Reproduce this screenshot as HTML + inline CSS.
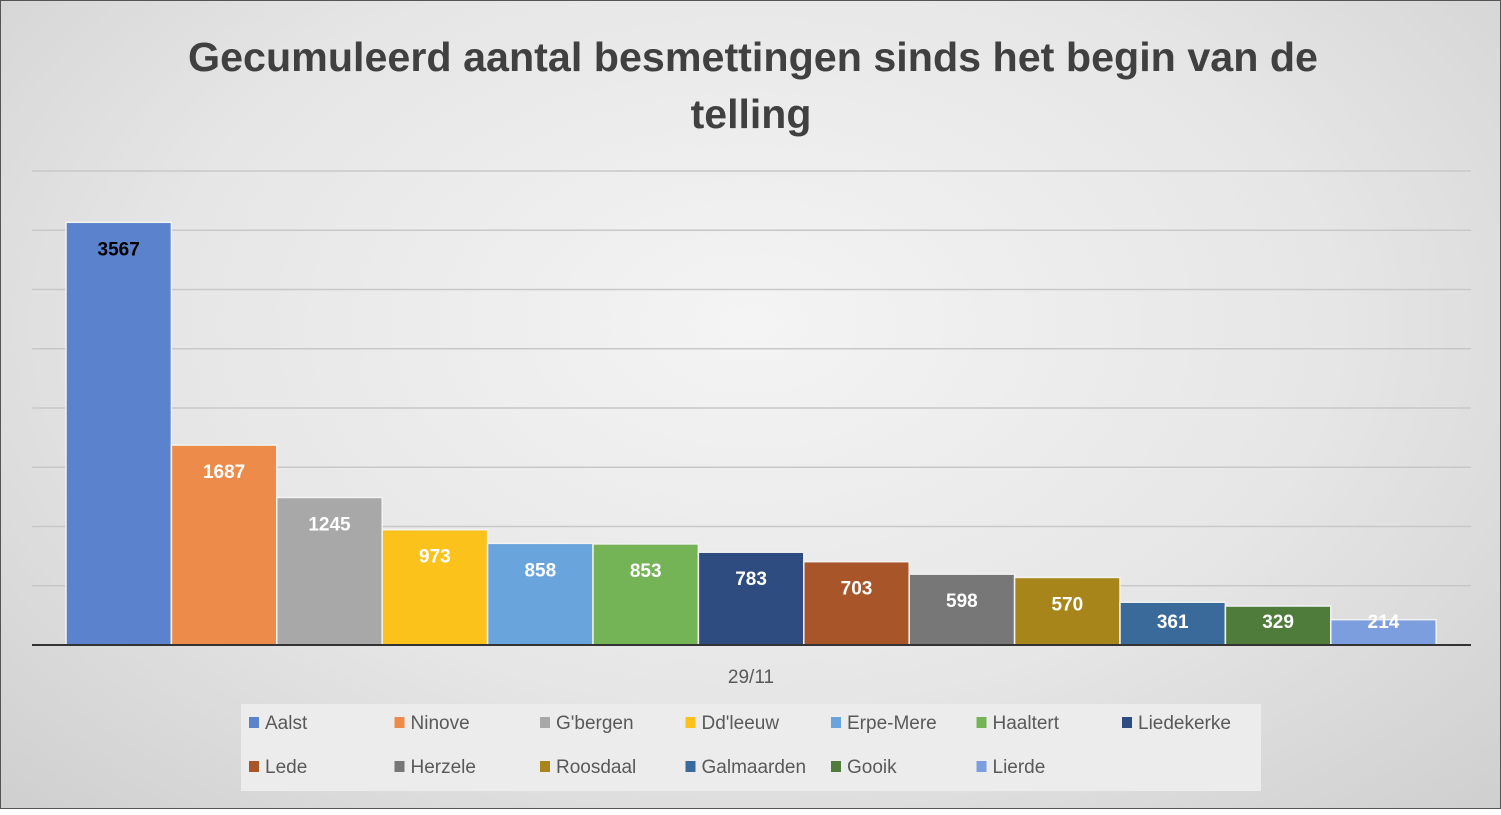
<!DOCTYPE html>
<html><head><meta charset="utf-8"><style>
body{margin:0;width:1501px;height:809px;overflow:hidden;font-family:"Liberation Sans",sans-serif}
#c{position:absolute;left:0;top:0;width:1499px;height:807px;border:1px solid #555;background:radial-gradient(ellipse at 50% 40%,#f4f4f4 0%,#e6e6e6 55%,#cfcfcf 100%)}
</style></head><body>
<div id="c">
<svg width="1501" height="809">
<text x="752" y="70" text-anchor="middle" font-size="41" font-weight="bold" fill="#404040" textLength="1130" lengthAdjust="spacingAndGlyphs">Gecumuleerd aantal besmettingen sinds het begin van de</text>
<text x="750" y="127" text-anchor="middle" font-size="41" font-weight="bold" fill="#404040">telling</text>
<g id="grid"></g><g id="bars"></g>
<line x1="31" x2="1470" y1="644" y2="644" stroke="#333" stroke-width="2"/>
<text x="750" y="682" text-anchor="middle" font-size="19" fill="#595959">29/11</text>
<rect x="240" y="703" width="1020" height="87" fill="#ececec"/>
<g id="legend"></g>
</svg></div>
<script>
const categories=["Aalst","Ninove","G'bergen","Dd'leeuw","Erpe-Mere","Haaltert","Liedekerke","Lede","Herzele","Roosdaal","Galmaarden","Gooik","Lierde"];
const values=[3567,1687,1245,973,858,853,783,703,598,570,361,329,214];
const colors=["#5b82cc","#ed8b4a","#a8a8a8","#fcc21c","#69a5dc","#75b357","#2f4c80","#a8552a","#777777","#a7851a","#3a6a9a","#4f7c3a","#7d9ede"];
const gridTicks=[0,500,1000,1500,2000,2500,3000,3500,4000];
const NS="http://www.w3.org/2000/svg";
const y=v=>644-v*(474/4000);
const x0=65,bw=105.4;
const g=document.getElementById('grid'),b=document.getElementById('bars'),l=document.getElementById('legend');
gridTicks.forEach(t=>{if(!t)return;const e=document.createElementNS(NS,'line');


e.setAttribute('x1',31);e.setAttribute('x2',1470);e.setAttribute('y1',y(t));e.setAttribute('y2',y(t));e.setAttribute('stroke','#c8c8c8');e.setAttribute('stroke-width',1.5);g.appendChild(e);});
values.forEach((v,i)=>{const r=document.createElementNS(NS,'rect');


r.setAttribute('x',x0+i*bw);r.setAttribute('y',y(v));r.setAttribute('width',bw);r.setAttribute('height',644-y(v));r.setAttribute('fill',colors[i]);r.setAttribute('stroke','#f2f2f2');r.setAttribute('stroke-width',1.5);b.appendChild(r);
const t=document.createElementNS(NS,'text');


t.setAttribute('x',x0+i*bw+bw/2);t.setAttribute('y',Math.min(y(v)+33,627));t.setAttribute('text-anchor','middle');t.setAttribute('font-size',19);t.setAttribute('font-weight','bold');t.setAttribute('fill',i==0?'#000':'#fff');t.textContent=v;b.appendChild(t);
const row=i<7?0:1,col=i<7?i:i-7;const lx=248+col*145.5,ly=row?772:728;
const m=document.createElementNS(NS,'rect');


m.setAttribute('x',lx);m.setAttribute('y',ly-12);m.setAttribute('width',10);m.setAttribute('height',11);m.setAttribute('fill',colors[i]);l.appendChild(m);
const lt=document.createElementNS(NS,'text');


lt.setAttribute('x',lx+16);lt.setAttribute('y',ly);lt.setAttribute('font-size',19);lt.setAttribute('fill','#595959');lt.textContent=categories[i];l.appendChild(lt);});
</script>
</body></html>
